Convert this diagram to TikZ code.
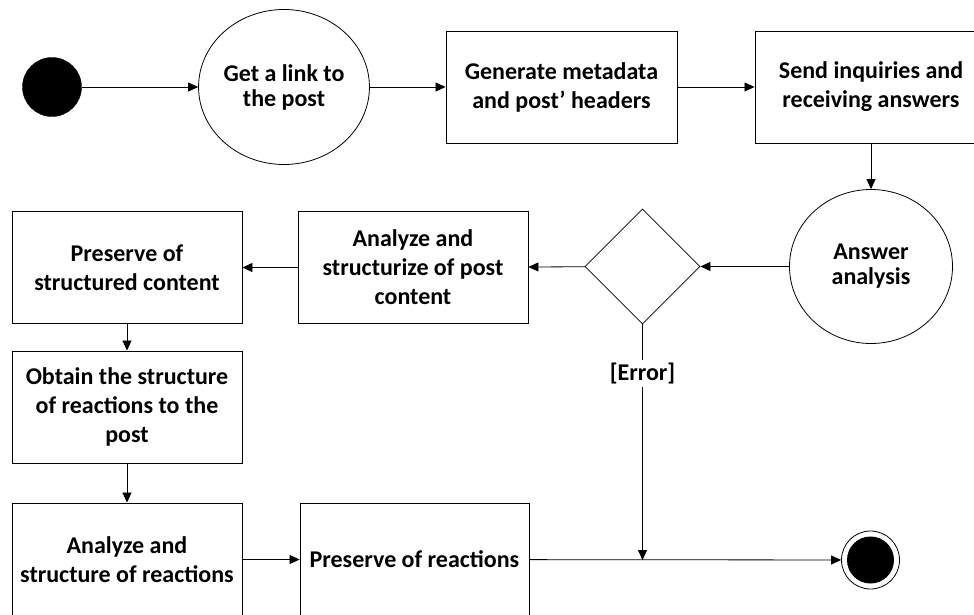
\documentclass[tikz,border=0pt]{standalone}
\usepackage{fontspec}
\setmainfont{Carlito}
\usepackage{tikz}
\usetikzlibrary{positioning,shapes,arrows.meta}

\begin{document}
\begin{tikzpicture}[x=1pt,y=-1pt,
	box/.style={draw,rectangle,line width=0.9pt,minimum width=230pt,minimum height=112pt,inner sep=2pt,align=center,font=\fontsize{24}{29}\selectfont\bfseries},
	act/.style={draw,ellipse,line width=0.8pt,minimum width=158pt,minimum height=155pt,inner sep=0pt,align=center,font=\fontsize{24}{25}\selectfont\bfseries},
	flow/.style={line width=0.8pt,-{Triangle[length=10pt,width=9pt]}}]
				\useasboundingbox (0,0) rectangle (974,615);
				\node[draw,circle,fill=black,minimum size=59pt,inner sep=0pt] (start) at (52,87) {};
				\node[act] (link) at (284,87) {Get a link to\\the post};
				\node[box,minimum width=231pt] (meta) at (561.5,87) {Generate metadata\\and post’ headers};
				\node[box,minimum width=232pt] (send) at (871,87) {Send inquiries and\\receiving answers};
				\node[act,minimum width=163pt,minimum height=154pt] (answer) at (871,266.5) {Answer\\analysis};
				\node[draw,diamond,line width=0.8pt,minimum width=115pt,minimum height=115pt,inner sep=0pt] (dec) at (642.5,266.5) {};
				\node[box] (struct) at (413,267.5) {Analyze and\\structurize of post\\content};
				\node[box] (keep) at (127,267.5) {Preserve of\\structured content};
				\node[box] (reactobt) at (127,407) {Obtain the structure\\of reactions to the\\post};
				\node[box,minimum height=113pt] (reactana) at (127,559.5) {Analyze and\\structure of reactions};
				\node[box,minimum width=229pt,minimum height=113pt] (reactkeep) at (414.5,559.5) {Preserve of reactions};
				\node[draw,circle,line width=0.8pt,minimum size=58pt,inner sep=0pt,path picture={\fill (path picture bounding box.center) circle (23.5pt);}] (final) at (870.5,560) {};
				\coordinate (join) at (dec |- final);
				\draw[flow] (start) -- (link);
				\draw[flow] (link) -- (meta);
				\draw[flow] (meta) -- (send);
				\draw[flow] (send) -- (answer);
				\draw[flow] (answer) -- (dec);
				\draw[flow] (dec) -- (struct);
				\draw[flow] (struct) -- (keep);
				\draw[flow] (keep) -- (reactobt);
				\draw[flow] (reactobt) -- (reactana);
				\draw[flow] (reactana) -- (reactkeep);
				\draw[flow] (reactkeep) -- (final);
				\draw[flow] (dec) -- node[pos=0.21,fill=white,inner sep=3pt,font=\fontsize{24}{25}\selectfont\bfseries] (err) {[Error]} (join);
				\end{tikzpicture}
\end{document}
